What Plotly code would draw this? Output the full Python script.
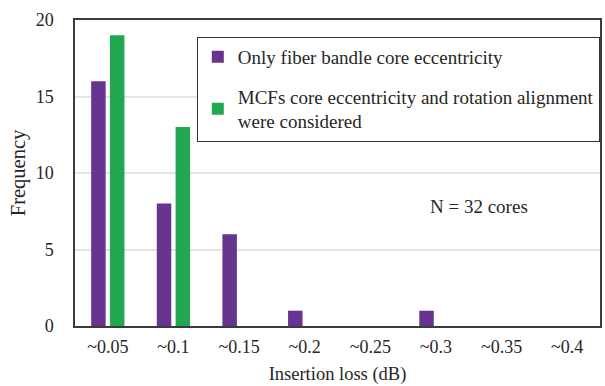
import plotly.graph_objects as go

# Insertion-loss bins and counts per alignment scenario
loss_bins = ["~0.05", "~0.1", "~0.15", "~0.2", "~0.25", "~0.3", "~0.35", "~0.4"]
fiber_bundle_counts = [16, 8, 6, 1, 0, 1, 0, 0]
mcf_rotation_counts = [19, 13, 0, 0, 0, 0, 0, 0]

series_names = [
    "Only fiber bandle core eccentricity",
    "MCFs core eccentricity and rotation alignment<br>were considered",
]
y_ticks = [0, 5, 10, 15, 20]

FONT = "Liberation Serif"
TEXT = "#262626"

fig = go.Figure()
fig.add_trace(go.Bar(
    x=loss_bins, y=fiber_bundle_counts, name=series_names[0],
    marker=dict(color="#67348F", line=dict(width=0)),
    legendgroup="a",
))
fig.add_trace(go.Bar(
    x=loss_bins, y=mcf_rotation_counts, name=series_names[1],
    marker=dict(color="#21A850", line=dict(width=0)),
    legendgroup="b",
))

fig.update_layout(
    width=605, height=386,
    margin=dict(l=75, r=5, t=20, b=60, autoexpand=False),
    paper_bgcolor="white", plot_bgcolor="white",
    barmode="group", bargap=0.427, bargroupgap=0.23,
    font=dict(family=FONT, size=18, color=TEXT),
    showlegend=True,
    legend=dict(
        x=0.232, y=0.945, xanchor="left", yanchor="top",
        bordercolor="#333333", borderwidth=1, bgcolor="white",
        font=dict(family=FONT, size=19, color=TEXT),
        tracegroupgap=12, traceorder="grouped",
    ),
    annotations=[dict(
        x=0.769, y=0.39, xref="paper", yref="paper",
        xanchor="center", yanchor="middle",
        text="N = 32 cores", showarrow=False,
        font=dict(family=FONT, size=19, color=TEXT),
    )],
)

fig.update_xaxes(
    categoryorder="array", categoryarray=loss_bins, automargin=False,
    showline=True, linecolor="#3b3b3b", linewidth=1.5, mirror=True,
    ticks="", ticklen=0, ticklabelstandoff=4,
    tickfont=dict(family=FONT, size=18, color=TEXT),
    title=dict(text="Insertion loss (dB)", standoff=11,
               font=dict(family=FONT, size=18.5, color=TEXT)),
)
fig.update_yaxes(
    range=[0, 20], tickvals=y_ticks, automargin=False,
    showline=True, linecolor="#3b3b3b", linewidth=1.5, mirror=True,
    showgrid=True, gridcolor="#e4e4e4", gridwidth=1.5,
    zeroline=False, ticks="", ticklen=0, ticklabelstandoff=16,
    tickfont=dict(family=FONT, size=18, color=TEXT),
    title=dict(text="Frequency", standoff=4,
               font=dict(family=FONT, size=20.5, color=TEXT)),
)

fig.write_html("out.html")
